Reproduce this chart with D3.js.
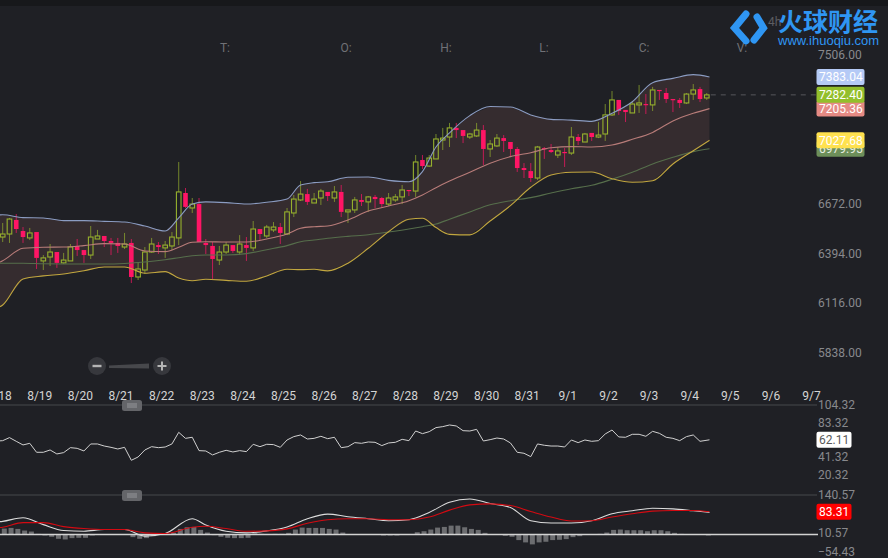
<!DOCTYPE html>
<html>
<head>
<meta charset="utf-8">
<script src="https://cdn.jsdelivr.net/npm/d3@7"></script>
<style>
html, body { margin: 0; padding: 0; background: #1f2025; overflow: hidden; }
svg { display: block; }
text { font-family: Roboto, sans-serif; }
</style>
</head>
<body>
<svg id="chart" width="888" height="558"></svg>
<script>
// 4h candles, one value per candle
const open = [6485,6502,6581,6519,6480,6513,6351,6373,6401,6340, 6351,6435,6412,6384,6474,6491,6463,6452,6429,6452, 6261,6300,6401,6440,6424,6435,6480,6732,6648,6670, 6452,6435,6356,6401,6440,6401,6440,6424,6530,6491, 6525,6541,6502,6620,6693,6726,6676,6704,6738,6704, 6738,6626,6637,6693,6682,6710,6704,6670,6693,6710, 6749,6743,6917,6883,6923,7029,7046,7097,7085,7046, 7052,7085,6979,6996,7040,7018,6979,6872,6855,6816, 6984,6973,6945,6962,6956,7046,7018,7069,7046,7063, 7170,7254,7198,7181,7226,7231,7226,7310,7293,7259, 7254,7237,7287,7315,7265];
const close = [6502,6586,6530,6485,6508,6368,6368,6401,6340,6356, 6429,6412,6384,6485,6491,6463,6452,6435,6446,6261, 6306,6401,6446,6429,6440,6485,6738,6654,6670,6457, 6440,6362,6401,6440,6407,6446,6424,6530,6502,6541, 6541,6508,6626,6698,6726,6682,6698,6743,6715,6738, 6626,6637,6693,6682,6710,6698,6670,6704,6710,6749, 6743,6906,6883,6928,7035,7040,7097,7085,7052,7063, 7085,6979,7007,7040,7024,6979,6872,6861,6816,6990, 6979,6962,6968,6956,7046,7024,7063,7046,7057,7170, 7254,7192,7186,7231,7237,7226,7310,7304,7259,7254, 7237,7287,7310,7259,7282.4];
const high = [6564,6592,6614,6541,6536,6513,6384,6446,6401,6396, 6446,6474,6412,6547,6525,6491,6480,6480,6508,6474, 6340,6429,6480,6457,6463,6513,6906,6760,6704,6704, 6474,6457,6435,6457,6440,6496,6485,6575,6530,6553, 6569,6564,6648,6721,6799,6755,6732,6755,6738,6771, 6777,6637,6710,6726,6715,6721,6710,6732,6726,6777, 6749,6945,6945,6945,7063,7097,7125,7125,7085,7069, 7125,7113,7029,7063,7057,7018,6990,6900,6900,6996, 6990,7007,6990,6984,7102,7063,7069,7069,7130,7231, 7304,7254,7198,7242,7338,7287,7327,7310,7321,7259, 7265,7293,7343,7327,7293];
const low = [6457,6452,6508,6452,6468,6306,6300,6323,6312,6334, 6351,6379,6340,6362,6474,6429,6384,6396,6418,6227, 6244,6278,6396,6390,6368,6412,6440,6648,6620,6457, 6390,6250,6328,6390,6396,6384,6351,6407,6468,6480, 6513,6446,6496,6597,6687,6665,6676,6665,6687,6682, 6597,6564,6620,6659,6626,6648,6648,6659,6682,6670, 6715,6710,6867,6878,6923,6973,6990,7040,7012,7035, 7046,6889,6934,6990,6962,6940,6850,6816,6794,6805, 6923,6956,6928,6878,6945,7001,7018,7024,7040,7024, 7164,7170,7130,7181,7181,7175,7192,7254,7237,7186, 7209,7231,7254,7242,7254];

// Bollinger bands and moving average, read at these candle numbers
// (indicator lines run a little past the last candle)
const bandIndex = [-1,0,3,6,9,12,15,18,21,24,26,28,30,33,36,39,42,44,46,48,51,54,57,60,62,64,66,69,72,75,78,81,84,87,90,93,96,99,102,104.4];
const bandUpper = [6607,6610,6594,6592,6577,6577,6573,6569,6547,6519,6592,6670,6682,6678,6670,6680,6698,6777,6790,6795,6820,6822,6803,6795,6852,6990,7069,7166,7217,7214,7170,7145,7141,7134,7179,7244,7351,7375,7396,7383.04];
const bandMiddle = [6335,6352,6422,6428,6429,6437,6448,6446,6407,6403,6428,6456,6459,6457,6457,6474,6502,6534,6543,6547,6581,6631,6659,6689,6721,6762,6799,6848,6899,6936,6958,6986,6992,6990,7001,7033,7072,7136,7179,7205.36];
const bandLower = [6082,6104,6250,6267,6278,6296,6317,6317,6282,6291,6255,6240,6248,6242,6237,6267,6304,6302,6304,6295,6338,6422,6515,6585,6590,6538,6500,6497,6575,6661,6764,6833,6848,6850,6812,6792,6801,6895,6969,7027.68];
const maLine = [6338,6338,6338,6335,6334,6334,6334,6337,6345,6358,6369,6380,6384,6384,6392,6414,6437,6459,6468,6478,6489,6498,6513,6530,6543,6558,6585,6626,6666,6689,6706,6732,6756,6775,6809,6848,6895,6932,6964,6979.95];

// RSI, starting one candle before the first one
const rsiIndex = d3.range(-1, 104).concat([104.4]);
const rsi = [60.5,61.1,64.8,60.3,55.9,57.9,47.0,47.0,49.8,45.0,46.6,52.6,51.8,48.6,57.1,57.1,54.6,53.0,51.0,53.0,37.3,41.3,49.8,53.8,52.6,53.4,57.1,71.2,63.9,65.2,49.0,48.6,43.8,47.0,49.4,47.4,49.0,47.8,56.7,53.8,56.7,56.3,53.0,61.9,66.0,68.0,63.1,63.9,66.4,63.5,65.2,52.6,53.8,58.7,57.9,59.5,59.1,55.1,58.3,59.1,62.7,61.1,72.8,69.6,72.0,76.9,78.1,80.1,78.9,73.2,72.8,74.8,60.7,62.3,64.3,63.1,58.3,47.0,45.8,41.7,57.1,55.5,54.6,54.6,53.4,61.9,58.7,61.9,60.3,61.1,69.2,74.0,65.6,65.2,68.8,68.8,66.4,72.4,70.0,65.2,63.9,61.1,66.0,68.0,60.3,62.11];

// MACD
const macdIndex = [-1,0,3,6,9,12,15,18,21,24,28,30,33,36,39,42,45,48,51,54,57,60,63,66,69,72,75,78,81,84,87,90,93,96,99,102,104.4];
const macdDif = [47.8,50.1,62.6,38.8,18.5,16.2,21.9,21.9,-0.7,8.3,59.2,37.7,16.2,10.6,17.4,30.9,59.2,75,66,59.2,52.4,55.8,80.7,115.7,127,111.2,97.6,52.4,44.5,44.5,52.4,76.1,86.3,95.3,93.1,86.3,80.7];
const macdDea = [27.5,29.8,45.6,45.6,32.1,25.3,21.9,21.9,10.6,8.3,29.8,33.2,25.3,16.2,17.4,24.2,43.4,55.8,59.2,59.2,55.8,55.8,64.8,88.6,106.7,110.1,104.4,84,64.8,51.3,52.4,64.8,76.1,85.2,87.4,87.4,83.31];
const macdHist = [20.3,22.6,19.2,13.6,10.2,2.3,-3.4,-7.9,-14.7,-17,-12.4,-11.3,-11.3,-3.4,-1.1,0,0,0,0,-9,-14.7,-12.4,-5.7,-1.1,-1.1,5.7,19.2,24.9,26,15.8,6.8,-2.3,-7.9,-11.3,-12.4,-12.4,-11.3,4.5,2.3,1.1,2.3,2.3,5.7,17,23.7,22.6,22.6,22.6,19.2,17,6.8,0,0,0,0,0,-3.4,-3.4,-3.4,-1.1,0,7.9,11.3,17,23.7,26,30.5,30.5,24.9,19.2,15.8,5.7,0,0,-4.5,-7.9,-19.2,-27.1,-33.9,-27.1,-24.9,-19.2,-18.1,-15.8,-9,-5.7,-1.1,0,2.3,6.8,15.8,17,14.7,14.7,14.7,11.3,14.7,14.7,11.3,5.7,2.3,0,0,-1.1,-3.4];
const macdZero = 4.93;

// Axis ticks
const dateLabels = ['8/18','8/19','8/20','8/21','8/22','8/23','8/24','8/25','8/26','8/27','8/28','8/29','8/30','8/31','9/1','9/2','9/3','9/4','9/5','9/6','9/7'];
const dateTickIndex = dateLabels.map((d, i) => -0.6 + 6 * i);
const priceTicks = [7506, 6672, 6394, 6116, 5838];
const rsiTicks = [104.32, 83.32, 41.32, 20.32];
const macdTicks = [140.57, 10.57, -54.43];
const legendLetters = ['T:', 'O:', 'H:', 'L:', 'C:', 'V:'];
const legendX = [225, 346, 446, 544, 644, 742];

// Last-value tags, drawn in this order so the overlaps match
const priceTags = [
    { value: 6979.95, color: '#6d8f5a', text: '#e8eee4' },
    { value: 7027.68, color: '#ffe14f', text: '#ffffff' },
    { value: 7205.36, color: '#e58a84', text: '#ffffff' },
    { value: 7383.04, color: '#b5caf6', text: '#ffffff' },
    { value: 7282.40, color: '#93bf2c', text: '#ffffff' }
];

const GREEN = '#96b02d';
const PINK = '#ff1565';
const BODY_WIDTH = 4.6;

const svg = d3.select('#chart');

const xScale = d3.scaleLinear().domain([0, 100]).range([2.7, 679.7]);
const priceY = d3.scaleLinear().domain([7506, 5838]).range([55, 352.4]);
const rsiY = d3.scaleLinear().domain([104.32, 20.32]).range([405, 474.3]);
const macdY = d3.scaleLinear().domain([140.57, -54.43]).range([495, 551.8]);

// Darker strip along the top
svg.append('rect').attr('width', 888).attr('height', 6).attr('fill', '#17181b');

// Fill between the bands
const bandRows = bandIndex.map((d, i) => ({ i: d, up: bandUpper[i], mid: bandMiddle[i], lo: bandLower[i], ma: maLine[i] }));
svg.append('path')
    .attr('d', d3.area()
        .x(d => xScale(d.i))
        .y0(d => priceY(d.lo))
        .y1(d => priceY(d.up))
        (bandRows))
    .attr('fill', '#352c2f');

// Candles
const candles = open.map((o, i) => ({ i, o, c: close[i], h: high[i], l: low[i], up: close[i] >= o }));
const candle = svg.append('g').selectAll('g').data(candles).enter().append('g');
candle.append('line')
    .attr('x1', d => xScale(d.i)).attr('x2', d => xScale(d.i))
    .attr('y1', d => priceY(d.h))
    .attr('y2', d => priceY(Math.max(d.o, d.c)))
    .attr('stroke', d => d.up ? GREEN : PINK)
    .attr('stroke-opacity', 0.7);
candle.append('line')
    .attr('x1', d => xScale(d.i)).attr('x2', d => xScale(d.i))
    .attr('y1', d => priceY(Math.min(d.o, d.c)))
    .attr('y2', d => priceY(d.l))
    .attr('stroke', d => d.up ? GREEN : PINK)
    .attr('stroke-opacity', 0.7);
candle.append('rect')
    .attr('x', d => xScale(d.i) - BODY_WIDTH / 2)
    .attr('width', BODY_WIDTH)
    .attr('y', d => priceY(Math.max(d.o, d.c)))
    .attr('height', d => Math.max(1.2, priceY(Math.min(d.o, d.c)) - priceY(Math.max(d.o, d.c))))
    .attr('fill', d => d.up ? 'none' : PINK)
    .attr('stroke', d => d.up ? GREEN : 'none')
    .attr('stroke-width', 1.1);

// Band and average lines
function drawBandLine(key, color) {
    svg.append('path')
        .attr('d', d3.line()
            .x(d => xScale(d.i))
            .y(d => priceY(d[key]))
            .curve(d3.curveMonotoneX)
            (bandRows))
        .attr('fill', 'none')
        .attr('stroke', color)
        .attr('stroke-width', 1.1);
}
drawBandLine('ma', '#566e4b');
drawBandLine('mid', '#b87c79');
drawBandLine('up', '#8b9cc2');
drawBandLine('lo', '#c2a73f');

// Last price dashes
svg.append('line')
    .attr('x1', xScale(104) + 4).attr('x2', 816)
    .attr('y1', priceY(7282.4)).attr('y2', priceY(7282.4))
    .attr('stroke', '#56575b')
    .attr('stroke-dasharray', '5,5');

// Panel separators
[405, 495].forEach(y => {
    svg.append('line')
        .attr('x1', 0).attr('x2', 817).attr('y1', y).attr('y2', y)
        .attr('stroke', '#47484c').attr('stroke-width', 1);
});

// RSI
svg.append('path')
    .datum(rsi)
    .attr('d', d3.line()
        .x((d, i) => xScale(rsiIndex[i]))
        .y(d => rsiY(d)))
    .attr('fill', 'none')
    .attr('stroke', '#d0d0d0')
    .attr('stroke-width', 1);

// MACD bars, zero line, then the two lines
svg.append('g').selectAll('rect').data(macdHist).enter().append('rect')
    .attr('x', (d, i) => xScale(i) - 0.9)
    .attr('width', 5)
    .attr('y', d => macdY(macdZero + Math.max(d, 0)))
    .attr('height', d => Math.abs(macdY(macdZero + d) - macdY(macdZero)))
    .attr('fill', '#6c6d70');
svg.append('line')
    .attr('x1', 0).attr('x2', 818)
    .attr('y1', macdY(macdZero)).attr('y2', macdY(macdZero))
    .attr('stroke', '#d2d2d2').attr('stroke-width', 1.6);

function drawMacdLine(values, color) {
    svg.append('path')
        .datum(values)
        .attr('d', d3.line()
            .x((d, i) => xScale(macdIndex[i]))
            .y(d => macdY(d))
            .curve(d3.curveMonotoneX))
        .attr('fill', 'none')
        .attr('stroke', color)
        .attr('stroke-width', 1.1);
}
drawMacdLine(macdDif, '#dcdcdc');
drawMacdLine(macdDea, '#d40a12');

// Axes
function drawAxis(axis, translate, color) {
    const g = svg.append('g')
        .attr('transform', translate)
        .call(axis.tickSize(0).tickPadding(0));
    g.select('.domain').remove();
    g.selectAll('text')
        .attr('fill', color)
        .style('font-family', 'Roboto, sans-serif')
        .style('font-size', '12px');
    return g;
}
drawAxis(d3.axisBottom(xScale).tickValues(dateTickIndex).tickFormat((d, i) => dateLabels[i]),
    'translate(0,391.5)', '#d4d4d4');
drawAxis(d3.axisRight(priceY).tickValues(priceTicks).tickFormat(d3.format('.2f')),
    'translate(818,0)', '#88898d');
drawAxis(d3.axisRight(rsiY).tickValues(rsiTicks).tickFormat(d3.format('.2f')),
    'translate(818,0)', '#88898d');
drawAxis(d3.axisRight(macdY).tickValues(macdTicks).tickFormat(d3.format('.2f')),
    'translate(818,0)', '#88898d');

// Value tags
function drawTag(y, width, fill, textColor, label) {
    svg.append('rect')
        .attr('x', 816.5).attr('y', y - 8)
        .attr('width', width).attr('height', 16)
        .attr('rx', 2)
        .attr('fill', fill);
    svg.append('text')
        .attr('x', 819).attr('y', y)
        .attr('dy', '0.36em')
        .attr('fill', textColor)
        .style('font-size', '12px')
        .text(label);
}
priceTags.forEach(t => drawTag(priceY(t.value), 48, t.color, t.text, d3.format('.2f')(t.value)));
drawTag(rsiY(62.11), 35, '#ffffff', '#5a5a5a', '62.11');
drawTag(macdY(83.31), 35, '#ff0000', '#ffffff', '83.31');

// O/H/L/C legend letters
svg.append('g').selectAll('text').data(legendLetters).enter().append('text')
    .attr('x', (d, i) => legendX[i])
    .attr('y', 52)
    .attr('text-anchor', 'middle')
    .attr('fill', '#707176')
    .style('font-size', '12px')
    .text(d => d);

// Interval text that sits behind the logo
svg.append('text').attr('x', 768).attr('y', 26)
    .attr('fill', '#5c5d61').style('font-size', '12px').text('4h');

// Logo
const BLUE = '#2f96f3';
['M746 14 L734.5 28 L746 41', 'M757 17 L763.5 28 L754 40'].forEach(p => {
    svg.append('path').attr('d', p)
        .attr('fill', 'none').attr('stroke', BLUE)
        .attr('stroke-width', 7).attr('stroke-linecap', 'round');
});
svg.append('text').attr('x', 778).attr('y', 31)
    .attr('fill', BLUE)
    .style('font-family', '"Noto Sans CJK SC", sans-serif')
    .style('font-size', '25px').style('font-weight', 700)
    .text('火球财经');
svg.append('text').attr('x', 778).attr('y', 44.5)
    .attr('fill', BLUE)
    .style('font-family', '"Liberation Sans", sans-serif')
    .style('font-size', '13px')
    .text('www.ihuoqiu.com');

// Zoom control
svg.append('path').attr('d', 'M109 365.5 L149 363.5 L149 368.5 L109 368 Z').attr('fill', '#47484c');
[97, 162].forEach(x => {
    svg.append('circle').attr('cx', x).attr('cy', 366).attr('r', 9).attr('fill', '#37383d');
});
svg.append('path').attr('d', 'M92.5 366 H101.5').attr('stroke', '#b5b5b5').attr('stroke-width', 2.4);
svg.append('path').attr('d', 'M157.5 366 H166.5 M162 361.5 V370.5').attr('stroke', '#b5b5b5').attr('stroke-width', 2);

// Panel drag handles
[400, 490].forEach(y => {
    svg.append('rect').attr('x', 122).attr('y', y)
        .attr('width', 20).attr('height', 11).attr('rx', 2.5)
        .attr('fill', '#646569');
    svg.append('rect').attr('x', 127).attr('y', y + 3)
        .attr('width', 10).attr('height', 5)
        .attr('fill', '#7d7e82');
});
</script>
</body>
</html>
